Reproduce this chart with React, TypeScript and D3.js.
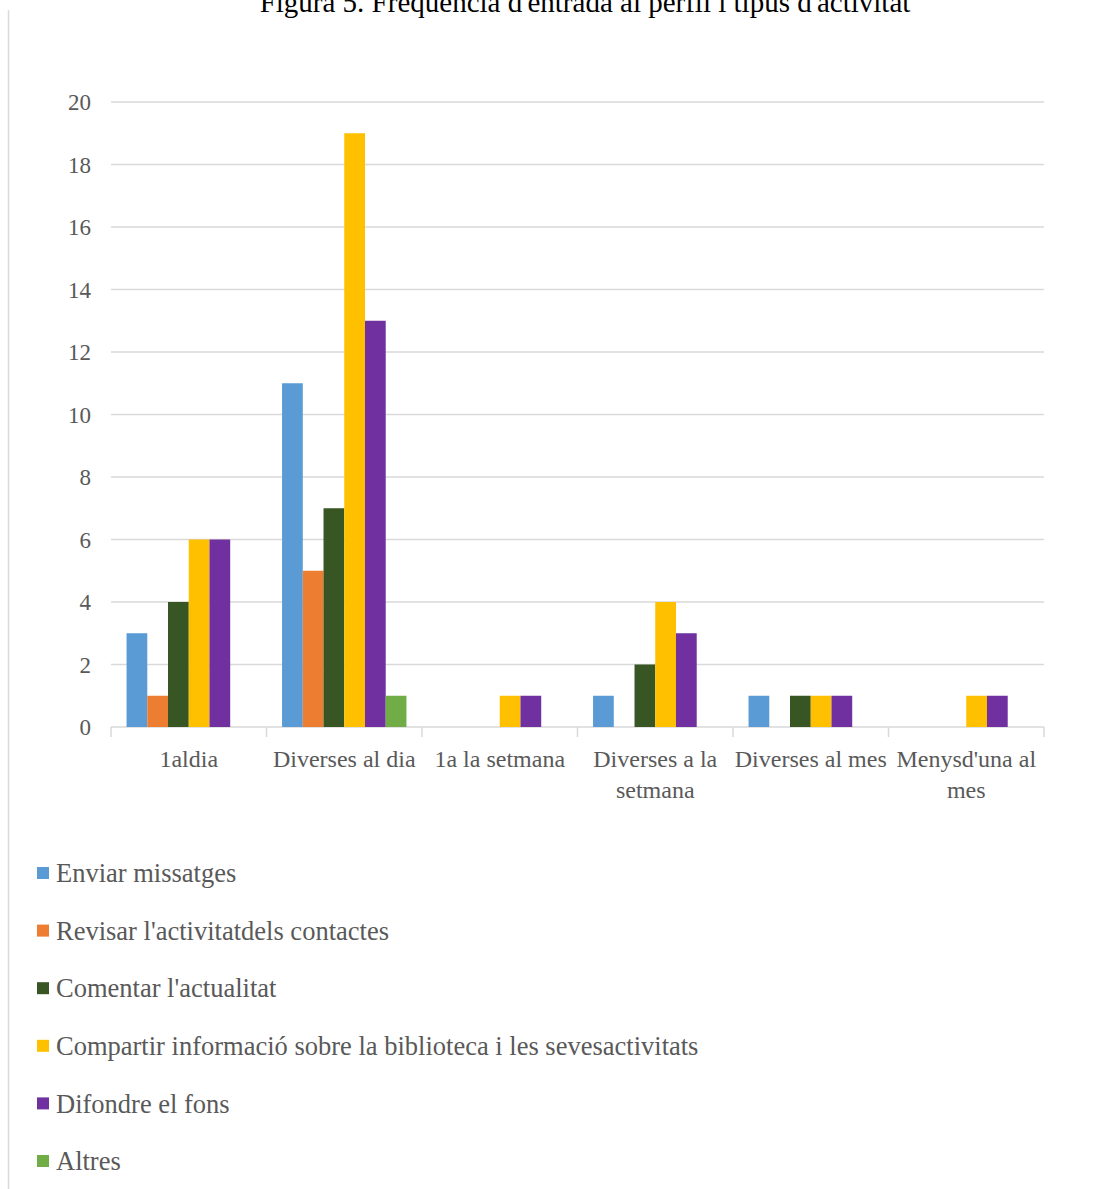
import React from "react";
import * as d3 from "d3";

const categories = ["1aldia", "Diverses al dia", "1a la setmana", "Diverses a la setmana", "Diverses al mes", "Menysd'una al mes"];
const categoryLines = [["1aldia"], ["Diverses al dia"], ["1a la setmana"], ["Diverses a la", "setmana"], ["Diverses al mes"], ["Menysd'una al", "mes"]];
const seriesNames = ["Enviar missatges", "Revisar l'activitatdels contactes", "Comentar l'actualitat", "Compartir informació sobre la biblioteca i les sevesactivitats", "Difondre el fons", "Altres"];
const seriesColors = ["#5B9BD5", "#ED7D31", "#375623", "#FFC000", "#7030A0", "#70AD47"];
const enviar = [3, 11, 0, 1, 1, 0];
const revisar = [1, 5, 0, 0, 0, 0];
const comentar = [4, 7, 0, 2, 1, 0];
const compartir = [6, 19, 1, 4, 1, 1];
const difondre = [6, 13, 1, 3, 1, 1];
const altres = [0, 1, 0, 0, 0, 0];
const seriesValues = [enviar, revisar, comentar, compartir, difondre, altres];
const yTicks = [0, 2, 4, 6, 8, 10, 12, 14, 16, 18, 20];
const title = "Figura 5. Freqüència d'entrada al perfil i tipus d'activitat";

export default function App() {
  const W = 1097, H = 1189;
  const left = 111, right = 1044, top = 102, bottom = 727;
  const x = d3.scaleBand<string>().domain(categories).range([left, right]).paddingInner(0).paddingOuter(0);
  const y = d3.scaleLinear().domain([0, 20]).range([bottom, top]);
  const bw = x.bandwidth();
  const groupW = bw * 0.8;
  const x1 = d3.scaleBand<number>().domain(d3.range(seriesNames.length)).range([0, groupW]);
  const font = "'Liberation Serif', 'Times New Roman', serif";
  const grey = "#595959";
  const gridC = "#D9D9D9";
  const boundaries = [...categories.map((c) => x(c) as number), right];
  return (
    <svg width={W} height={H} style={{ position: "absolute", left: 0, top: 0, background: "#fff" }} fontFamily={font}>
      <rect x={0} y={0} width={W} height={H} fill="#fff" />
      <line x1={8.5} x2={8.5} y1={10} y2={H} stroke={gridC} strokeWidth={1.5} />
      <text x={585} y={12} textAnchor="middle" fontSize={29} fill="#000">{title}</text>
      {yTicks.map((t) => (
        <g key={t}>
          <line x1={left} x2={right} y1={y(t)} y2={y(t)} stroke={gridC} strokeWidth={1.5} />
          <text x={91} y={y(t)} dy="0.35em" textAnchor="end" fontSize={23} fill={grey}>{t}</text>
        </g>
      ))}
      {boundaries.map((b, i) => (
        <line key={i} x1={b} x2={b} y1={bottom} y2={bottom + 10} stroke={gridC} strokeWidth={1.5} />
      ))}
      {categories.map((c, ci) => (
        <g key={c}>
          {seriesValues.map((vals, si) =>
            vals[ci] > 0 ? (
              <rect key={si}
                x={(x(c) as number) + (bw - groupW) / 2 + (x1(si) as number)}
                y={y(vals[ci])}
                width={x1.bandwidth()}
                height={bottom - y(vals[ci])}
                fill={seriesColors[si]} />
            ) : null
          )}
          {categoryLines[ci].map((ln, li) => (
            <text key={li} x={(x(c) as number) + bw / 2} y={767 + li * 31} textAnchor="middle" fontSize={24} fill={grey}>{ln}</text>
          ))}
        </g>
      ))}
      {seriesNames.map((n, i) => {
        const cy = 873 + i * 57.6;
        return (
          <g key={n}>
            <rect x={37} y={cy - 6} width={12} height={12} fill={seriesColors[i]} />
            <text x={56} y={cy} dy="0.35em" fontSize={26.5} fill={grey}>{n}</text>
          </g>
        );
      })}
    </svg>
  );
}
